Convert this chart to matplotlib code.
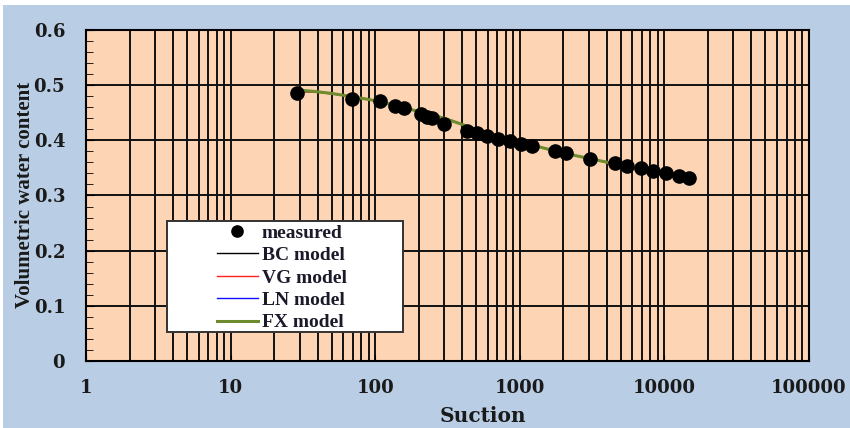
import matplotlib
matplotlib.use("Agg")
import matplotlib.pyplot as plt
from matplotlib.ticker import LogLocator, MultipleLocator, NullFormatter
from matplotlib.patches import Rectangle

# measured data
suction = [29, 69, 108, 137, 158, 209, 229, 248, 300, 431, 506, 593, 707, 855,
           1019, 1214, 1750, 2100, 3060, 4550, 5510, 6890, 8340, 10260, 12600, 14800]
theta = [0.485, 0.475, 0.471, 0.462, 0.459, 0.448, 0.442, 0.440, 0.430, 0.417,
         0.413, 0.408, 0.402, 0.399, 0.393, 0.390, 0.381, 0.377, 0.366, 0.359,
         0.353, 0.350, 0.344, 0.341, 0.335, 0.332]

# model curves
model_x = [30, 40, 50, 70, 100, 150, 200, 300, 500, 700, 1000, 2000, 5000, 10000, 16000]
bc_model = [0.488, 0.488, 0.485, 0.479, 0.472, 0.461, 0.453, 0.441, 0.420, 0.408, 0.397, 0.377, 0.355, 0.341, 0.332]
vg_model = [0.489, 0.487, 0.484, 0.479, 0.472, 0.461, 0.452, 0.440, 0.420, 0.408, 0.397, 0.377, 0.355, 0.341, 0.331]
ln_model = [0.490, 0.488, 0.485, 0.479, 0.472, 0.461, 0.452, 0.440, 0.420, 0.408, 0.397, 0.377, 0.355, 0.341, 0.331]
fx_model = [0.491, 0.488, 0.485, 0.479, 0.472, 0.461, 0.452, 0.440, 0.420, 0.408, 0.397, 0.377, 0.355, 0.341, 0.331]

xtick_values = [1, 10, 100, 1000, 10000, 100000]
xtick_labels = ["1", "10", "100", "1000", "10000", "100000"]
ytick_values = [0, 0.1, 0.2, 0.3, 0.4, 0.5, 0.6]
ytick_labels = ["0", "0.1", "0.2", "0.3", "0.4", "0.5", "0.6"]

W, H = 850, 428
fig = plt.figure(figsize=(8.5, 4.28), dpi=100, facecolor="#b9cde4")
fig.patches.append(Rectangle((0, 1 - 5 / H), 1, 5 / H, transform=fig.transFigure,
                             facecolor="white", edgecolor="none", zorder=0))
fig.patches.append(Rectangle((0, 0), 3 / W, 1, transform=fig.transFigure,
                             facecolor="white", edgecolor="none", zorder=0))

left, right, top, bottom = 86, 809, 30, 361
ax = fig.add_axes([left / W, 1 - bottom / H, (right - left) / W, (bottom - top) / H])
ax.set_facecolor("#fdd5b4")
ax.set_xscale("log")
ax.set_xlim(1, 100000)
ax.set_ylim(0, 0.6)

ax.set_xticks(xtick_values)
ax.set_xticklabels(xtick_labels)
ax.xaxis.set_minor_locator(LogLocator(base=10, subs=range(2, 10), numticks=20))
ax.xaxis.set_minor_formatter(NullFormatter())
ax.set_yticks(ytick_values)
ax.set_yticklabels(ytick_labels)
ax.yaxis.set_minor_locator(MultipleLocator(0.02))
ax.grid(True, which="major", axis="both", color="#111111", linewidth=1.4)
ax.grid(True, which="minor", axis="x", color="#111111", linewidth=1.4)
ax.set_axisbelow(True)

for lab in ax.get_xticklabels() + ax.get_yticklabels():
    lab.set_fontfamily("DejaVu Serif")
    lab.set_fontweight("bold")
    lab.set_fontsize(13)
    lab.set_color("#1a1a1a")
ax.tick_params(axis="x", which="major", direction="in", length=4, pad=13, color="black")
ax.tick_params(axis="x", which="minor", direction="in", length=0)
ax.tick_params(axis="y", which="major", direction="in", length=6, pad=15, color="black")
ax.tick_params(axis="y", which="minor", direction="in", length=5, color="black")
for s in ax.spines.values():
    s.set_color("black")
    s.set_linewidth(1.5)

ax.plot(model_x, bc_model, color="black", lw=1.0, label="BC model", zorder=3)
ax.plot(model_x, vg_model, color="#ff2020", lw=1.0, label="VG model", zorder=3)
ax.plot(model_x, ln_model, color="#1010ff", lw=1.0, label="LN model", zorder=3)
ax.plot(model_x, fx_model, color="#6e8b2e", lw=2.2, label="FX model", zorder=4)
ax.plot(suction, theta, "o", color="black", markersize=9.5, label="measured", zorder=5)

# legend box
fig.patches.append(Rectangle((167 / W, 1 - 332 / H), (403 - 167) / W, (332 - 221) / H,
                             transform=fig.transFigure, facecolor="white",
                             edgecolor="#333333", linewidth=1.4, zorder=5))
handles, labels = ax.get_legend_handles_labels()
order = [4, 0, 1, 2, 3]
leg = fig.legend([handles[i] for i in order], [labels[i] for i in order],
                 loc="upper left", bbox_to_anchor=(217 / W, 1 - 224 / H),
                 bbox_transform=fig.transFigure, frameon=False,
                 prop=dict(family="Liberation Serif", weight="bold", size=14),
                 handlelength=2.1, labelspacing=0.25, borderpad=0,
                 handletextpad=0.2, borderaxespad=0, markerscale=0.85)
leg.set_zorder(10)
for t in leg.get_texts():
    t.set_color("#1a1a2a")

fig.text(483 / W, 1 - 416 / H, "Suction", ha="center", va="center",
         fontfamily="DejaVu Serif", fontweight="bold", fontsize=14.5, color="#1a1a1a")
fig.text(25 / W, 1 - 195 / H, "Volumetric water content", ha="center", va="center",
         rotation=90, fontfamily="Liberation Serif", fontweight="bold", fontsize=15, color="#1a1a1a")

fig.savefig("out.png", dpi=100, facecolor=fig.get_facecolor())
